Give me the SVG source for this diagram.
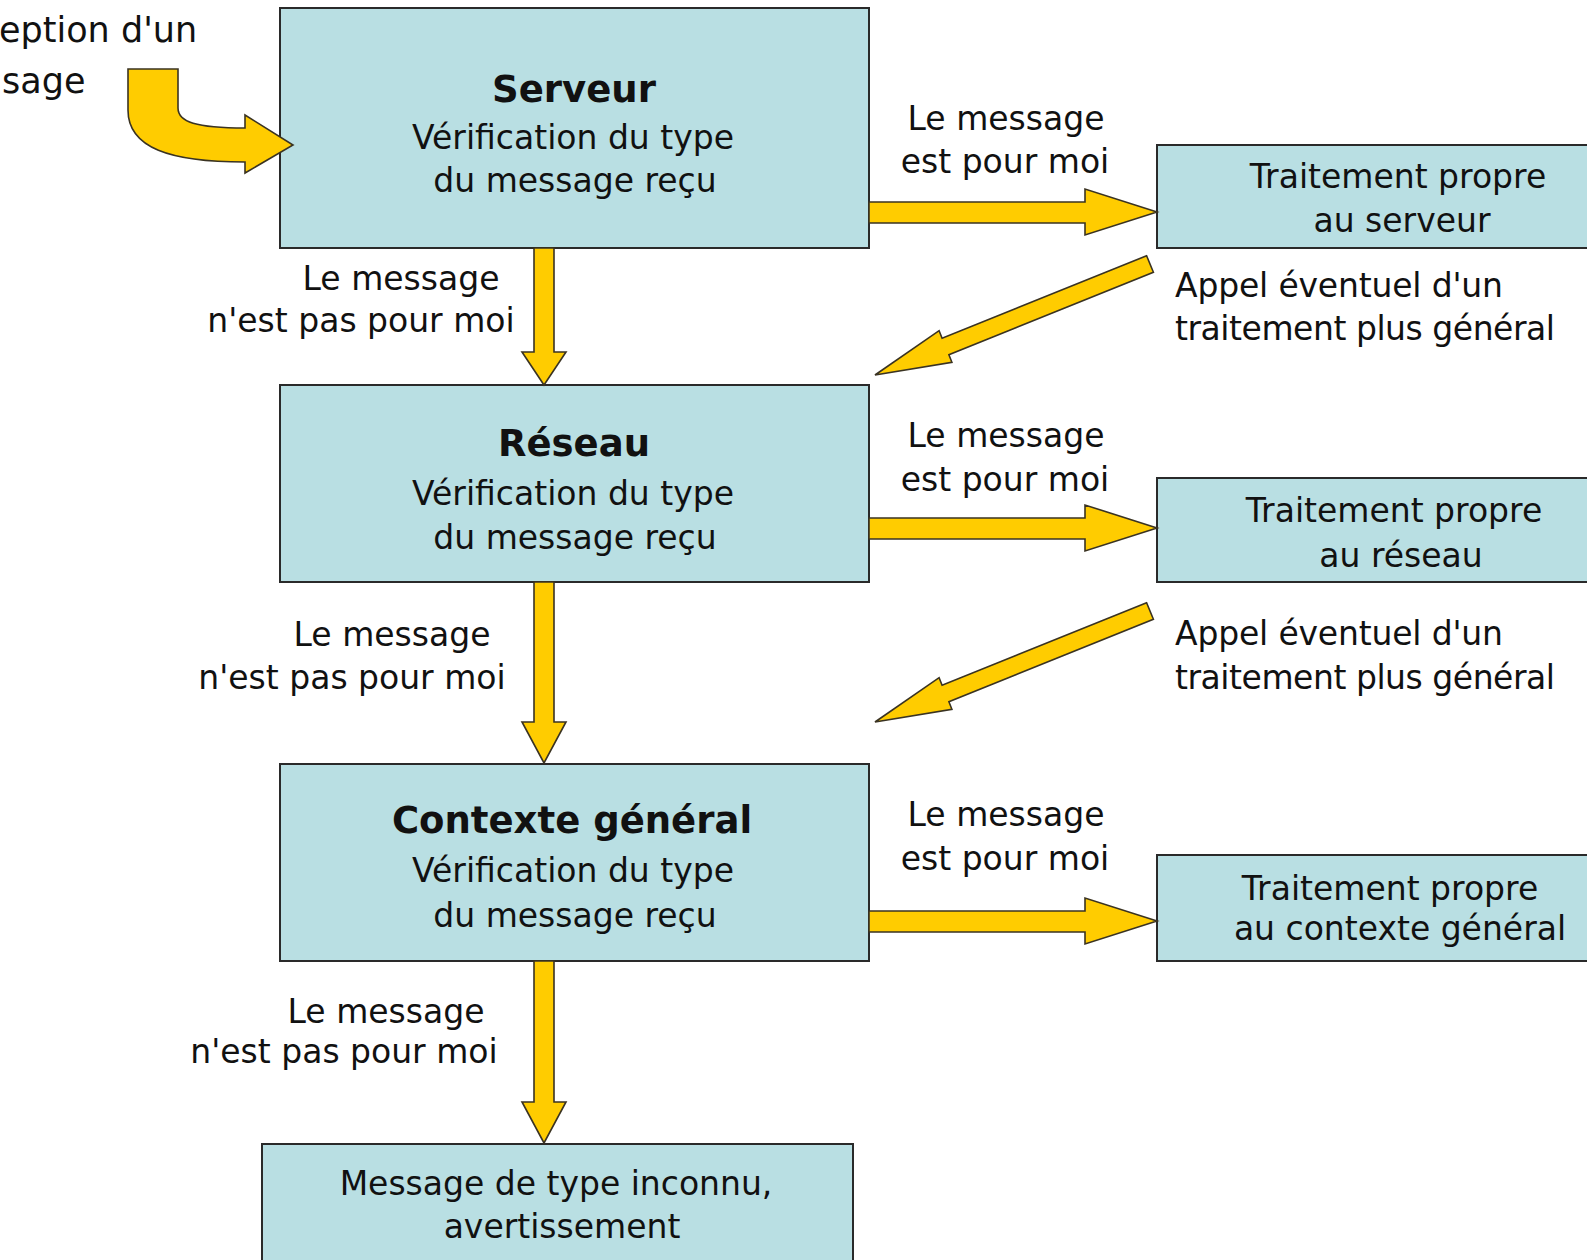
<svg xmlns="http://www.w3.org/2000/svg" width="1587" height="1260" viewBox="0 0 1587 1260">
<style>
.box{fill:#B9DFE3;stroke:#2a2a2a;stroke-width:2}
.arr{fill:#FFCC00;stroke:#3a3322;stroke-width:1.6;stroke-linejoin:miter}
text{font-family:"DejaVu Sans","Liberation Sans",sans-serif;fill:#111}
.t{font-size:33px}
.c{text-anchor:middle}
.b{font-size:37px;font-weight:bold;text-anchor:middle}
</style>
<rect width="1587" height="1260" fill="#ffffff"/>

<g id="labels">
  <text class="t" x="-1" y="42" style="font-size:35px">eption d'un</text>
  <text class="t" x="2" y="93" style="font-size:35px">sage</text>
  <text class="t c" x="1006" y="130">Le message</text>
  <text class="t c" x="1005" y="173">est pour moi</text>
  <text class="t c" x="1006" y="447">Le message</text>
  <text class="t c" x="1005" y="491">est pour moi</text>
  <text class="t c" x="1006" y="826">Le message</text>
  <text class="t c" x="1005" y="870">est pour moi</text>
  <text class="t c" x="401" y="290">Le message</text>
  <text class="t c" x="361" y="332">n'est pas pour moi</text>
  <text class="t c" x="392" y="646">Le message</text>
  <text class="t c" x="352" y="689">n'est pas pour moi</text>
  <text class="t c" x="386" y="1023">Le message</text>
  <text class="t c" x="344" y="1063">n'est pas pour moi</text>
  <text class="t" x="1175" y="297" textLength="328">Appel éventuel d'un</text>
  <text class="t" x="1175" y="340" textLength="380">traitement plus général</text>
  <text class="t" x="1175" y="645" textLength="328">Appel éventuel d'un</text>
  <text class="t" x="1175" y="689" textLength="380">traitement plus général</text>
</g>

<g id="serveur">
  <rect class="box" x="280" y="8" width="589" height="240"/>
  <text class="b" x="574" y="102">Serveur</text>
  <text class="t c" x="573" y="149">Vérification du type</text>
  <text class="t c" x="575" y="192">du message reçu</text>
</g>
<g id="traitement-serveur">
  <rect class="box" x="1157" y="145" width="460" height="103"/>
  <text class="t c" x="1398" y="188">Traitement propre</text>
  <text class="t c" x="1402" y="232">au serveur</text>
</g>
<g id="reseau">
  <rect class="box" x="280" y="385" width="589" height="197"/>
  <text class="b" x="574" y="456">Réseau</text>
  <text class="t c" x="573" y="505">Vérification du type</text>
  <text class="t c" x="575" y="549">du message reçu</text>
</g>
<g id="traitement-reseau">
  <rect class="box" x="1157" y="478" width="460" height="104"/>
  <text class="t c" x="1394" y="522">Traitement propre</text>
  <text class="t c" x="1401" y="567">au réseau</text>
</g>
<g id="contexte">
  <rect class="box" x="280" y="764" width="589" height="197"/>
  <text class="b" x="572" y="833">Contexte général</text>
  <text class="t c" x="573" y="882">Vérification du type</text>
  <text class="t c" x="575" y="927">du message reçu</text>
</g>
<g id="traitement-contexte">
  <rect class="box" x="1157" y="855" width="460" height="106"/>
  <text class="t c" x="1390" y="900">Traitement propre</text>
  <text class="t c" x="1400" y="940">au contexte général</text>
</g>
<g id="inconnu">
  <rect class="box" x="262" y="1144" width="591" height="140"/>
  <text class="t c" x="556" y="1195">Message de type inconnu,</text>
  <text class="t c" x="562" y="1238">avertissement</text>
</g>

<g id="connectors">
  <path id="in-arrow" class="arr" d="M128,69 L178,69 L178,108 C178,122 196,128 245,128 L245,115 L293,145 L245,173 L245,162 C170,162 128,148 128,110 Z"/>
  <polygon id="v1" class="arr" points="534,248 554,248 554,352 566,352 544,385 522,352 534,352"/>
  <polygon id="v2" class="arr" points="534,582 554,582 554,722 566,722 544,763 522,722 534,722"/>
  <polygon id="v3" class="arr" points="534,961 554,961 554,1102 566,1102 544,1143 522,1102 534,1102"/>
  <polygon id="h1" class="arr" points="869,202 1085,202 1085,189 1157,212 1085,235 1085,223 869,223"/>
  <polygon id="h2" class="arr" points="869,518 1085,518 1085,505 1157,528 1085,551 1085,539 869,539"/>
  <polygon id="h3" class="arr" points="869,911 1085,911 1085,898 1157,921 1085,944 1085,932 869,932"/>
  <polygon id="d1" class="arr" points="1146.6,255.7 942.1,338.2 939.1,330.7 875,375 951.9,362.3 948.9,354.8 1153.4,272.3"/>
  <polygon id="d2" class="arr" points="1146.6,602.7 942.1,685.2 939.1,677.7 875,722 951.9,709.3 948.9,701.8 1153.4,619.3"/>
</g>
</svg>
